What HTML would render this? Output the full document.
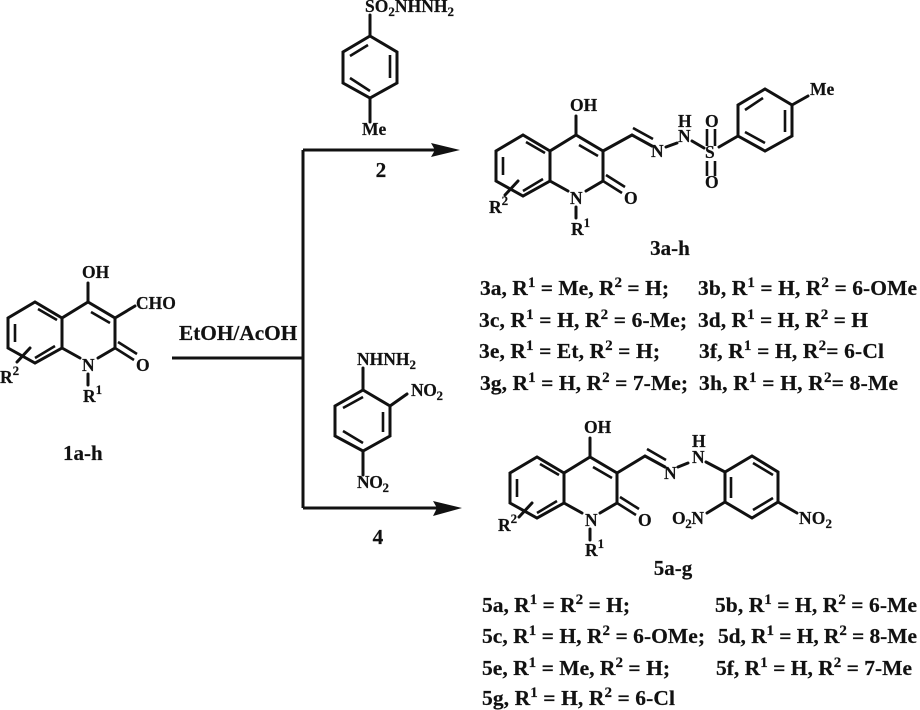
<!DOCTYPE html>
<html>
<head>
<meta charset="utf-8">
<style>
html,body{margin:0;padding:0;background:#fff;width:920px;height:710px;overflow:hidden}
svg{display:block}
text{font-family:"Liberation Serif",serif;font-weight:bold;fill:#111;stroke:#111;stroke-width:.2}
.a{font-size:17.5px}
.b{font-size:21px}
.c{font-size:21.3px}
.l{font-size:21.5px}
.bond{fill:none;stroke:#111;stroke-width:3;stroke-linecap:round;stroke-linejoin:miter}
.in{fill:none;stroke:#111;stroke-width:2.6;stroke-linecap:butt}
</style>
</head>
<body>
<svg width="920" height="710" viewBox="0 0 920 710" xmlns="http://www.w3.org/2000/svg">
<defs>
<g id="q">
<path class="bond" d="M62 318L35 302L8 318V348L35 363L62 348V318L88 302L115 318V348L98 358M62 348L80 358M88 302V283M88 374V385M17 362L30 348"/>
<path class="in" d="M38 309L57 320M15 324V342M35 358L55 346M91 312L110 323M115 348L134 360M118 342L137 354"/>
</g>
</defs>

<!-- compound 1 -->
<use href="#q"/>
<path class="bond" d="M115 318L135 306"/>
<text class="a" x="82" y="278">OH</text>
<text class="a" x="136" y="309">CHO</text>
<text class="a" x="136" y="371">O</text>
<text class="a" x="82" y="371">N</text>
<text class="a" x="83" y="402">R<tspan font-size="13" dy="-8">1</tspan></text>
<text class="a" x="0" y="383">R<tspan font-size="13" dy="-8">2</tspan></text>
<text class="b" x="63" y="460">1a-h</text>

<!-- reaction lines -->
<text class="c" x="179" y="340">EtOH/AcOH</text>
<path d="M172 358H303M303 150V508" fill="none" stroke="#111" stroke-width="3"/>
<path d="M303 150H436M303 508H438" fill="none" stroke="#111" stroke-width="3"/>
<path d="M431 143L460 150L431 157L435 150Z" fill="#111"/>
<path d="M433 501L462 508L433 516L437 508Z" fill="#111"/>
<text class="c" x="381" y="177" text-anchor="middle">2</text>
<text class="c" x="378" y="544" text-anchor="middle">4</text>

<!-- reagent 2 -->
<path class="bond" d="M370 36L397 52V83L370 98L343 83V52ZM370 36V15M370 98V122"/>
<path class="in" d="M350 56L368 45M390 55V78M350 78L370 91"/>
<text class="a" x="365" y="12" textLength="89">SO<tspan font-size="13" dy="4">2</tspan><tspan dy="-4">NHNH</tspan><tspan font-size="13" dy="4">2</tspan></text>
<text class="a" x="362" y="135">Me</text>

<!-- reagent 4 -->
<path class="bond" d="M363 390L390 406V436L363 451L335 436V406ZM363 390V368M363 451V475M390 406L407 394"/>
<path class="in" d="M343 408L363 397M383 412V432M343 431L363 443"/>
<text class="a" x="357" y="365" textLength="59">NHNH<tspan font-size="13" dy="4">2</tspan></text>
<text class="a" x="411" y="396" textLength="32">NO<tspan font-size="13" dy="4">2</tspan></text>
<text class="a" x="357" y="488" textLength="32">NO<tspan font-size="13" dy="4">2</tspan></text>

<!-- compound 3 -->
<use href="#q" transform="translate(488,-167)"/>
<path class="bond" d="M603 151L632 135L652 146M666 147L677 143M692 141L704 148M719 147L738 136M738 136V105L765 89L792 105V136L765 151ZM792 105L808 96"/>
<path class="in" d="M633 128L653 139M707 129V146M715 129V146M707 161V176M715 161V176M745 110L763 98M785 110V132M745 132L765 143"/>
<text class="a" x="570" y="111">OH</text>
<text class="a" x="624" y="204">O</text>
<text class="a" x="570" y="204">N</text>
<text class="a" x="571" y="235">R<tspan font-size="13" dy="-8">1</tspan></text>
<text class="a" x="489" y="213">R<tspan font-size="13" dy="-8">2</tspan></text>
<text class="a" x="651" y="157">N</text>
<text class="a" x="678" y="142">N</text>
<text class="a" x="678" y="127">H</text>
<text class="a" x="705" y="158">S</text>
<text class="a" x="705" y="127">O</text>
<text class="a" x="705" y="188">O</text>
<text class="a" x="810" y="95">Me</text>
<text class="b" x="670" y="255" text-anchor="middle">3a-h</text>

<!-- list 3 -->
<text class="l" x="480" y="295" textLength="189">3a, R<tspan font-size="15" dy="-8">1</tspan><tspan dy="8"> = Me, R</tspan><tspan font-size="15" dy="-8">2</tspan><tspan dy="8"> = H;</tspan></text>
<text class="l" x="698" y="295" textLength="219">3b, R<tspan font-size="15" dy="-8">1</tspan><tspan dy="8"> = H, R</tspan><tspan font-size="15" dy="-8">2</tspan><tspan dy="8"> = 6-OMe</tspan></text>
<text class="l" x="479" y="327" textLength="208">3c, R<tspan font-size="15" dy="-8">1</tspan><tspan dy="8"> = H, R</tspan><tspan font-size="15" dy="-8">2</tspan><tspan dy="8"> = 6-Me;</tspan></text>
<text class="l" x="698" y="327" textLength="170">3d, R<tspan font-size="15" dy="-8">1</tspan><tspan dy="8"> = H, R</tspan><tspan font-size="15" dy="-8">2</tspan><tspan dy="8"> = H</tspan></text>
<text class="l" x="479" y="358" textLength="181">3e, R<tspan font-size="15" dy="-8">1</tspan><tspan dy="8"> = Et, R</tspan><tspan font-size="15" dy="-8">2</tspan><tspan dy="8"> = H;</tspan></text>
<text class="l" x="699" y="358" textLength="185">3f, R<tspan font-size="15" dy="-8">1</tspan><tspan dy="8"> = H, R</tspan><tspan font-size="15" dy="-8">2</tspan><tspan dy="8">= 6-Cl</tspan></text>
<text class="l" x="480" y="390" textLength="208">3g, R<tspan font-size="15" dy="-8">1</tspan><tspan dy="8"> = H, R</tspan><tspan font-size="15" dy="-8">2</tspan><tspan dy="8"> = 7-Me;</tspan></text>
<text class="l" x="699" y="390" textLength="199">3h, R<tspan font-size="15" dy="-8">1</tspan><tspan dy="8"> = H, R</tspan><tspan font-size="15" dy="-8">2</tspan><tspan dy="8">= 8-Me</tspan></text>

<!-- compound 5 -->
<use href="#q" transform="translate(502,155)"/>
<path class="bond" d="M617 473L645 456L665 467M678 467L688 463M706 462L725 472L752 456L778 472V502L752 518L725 502V472M725 502L707 513M778 502L797 513"/>
<path class="in" d="M647 449L666 460M731 477V498M753 463L773 475M753 510L773 498"/>
<text class="a" x="584" y="433">OH</text>
<text class="a" x="638" y="526">O</text>
<text class="a" x="585" y="526">N</text>
<text class="a" x="585" y="556">R<tspan font-size="13" dy="-8">1</tspan></text>
<text class="a" x="498" y="531">R<tspan font-size="13" dy="-8">2</tspan></text>
<text class="a" x="664" y="479">N</text>
<text class="a" x="692" y="463">N</text>
<text class="a" x="692" y="447">H</text>
<text class="a" x="672" y="524" textLength="32">O<tspan font-size="13" dy="4">2</tspan><tspan dy="-4">N</tspan></text>
<text class="a" x="799" y="524" textLength="33">NO<tspan font-size="13" dy="4">2</tspan></text>
<text class="b" x="673" y="575" text-anchor="middle">5a-g</text>

<!-- list 5 -->
<text class="l" x="482" y="612" textLength="148">5a, R<tspan font-size="15" dy="-8">1</tspan><tspan dy="8"> = R</tspan><tspan font-size="15" dy="-8">2</tspan><tspan dy="8"> = H;</tspan></text>
<text class="l" x="715" y="612" textLength="202">5b, R<tspan font-size="15" dy="-8">1</tspan><tspan dy="8"> = H, R</tspan><tspan font-size="15" dy="-8">2</tspan><tspan dy="8"> = 6-Me</tspan></text>
<text class="l" x="482" y="643" textLength="223">5c, R<tspan font-size="15" dy="-8">1</tspan><tspan dy="8"> = H, R</tspan><tspan font-size="15" dy="-8">2</tspan><tspan dy="8"> = 6-OMe;</tspan></text>
<text class="l" x="718" y="643" textLength="199">5d, R<tspan font-size="15" dy="-8">1</tspan><tspan dy="8"> = H, R</tspan><tspan font-size="15" dy="-8">2</tspan><tspan dy="8"> = 8-Me</tspan></text>
<text class="l" x="482" y="675" textLength="188">5e, R<tspan font-size="15" dy="-8">1</tspan><tspan dy="8"> = Me, R</tspan><tspan font-size="15" dy="-8">2</tspan><tspan dy="8"> = H;</tspan></text>
<text class="l" x="716" y="675" textLength="196">5f, R<tspan font-size="15" dy="-8">1</tspan><tspan dy="8"> = H, R</tspan><tspan font-size="15" dy="-8">2</tspan><tspan dy="8"> = 7-Me</tspan></text>
<text class="l" x="482" y="705" textLength="193">5g, R<tspan font-size="15" dy="-8">1</tspan><tspan dy="8"> = H, R</tspan><tspan font-size="15" dy="-8">2</tspan><tspan dy="8"> = 6-Cl</tspan></text>
</svg>
</body>
</html>
